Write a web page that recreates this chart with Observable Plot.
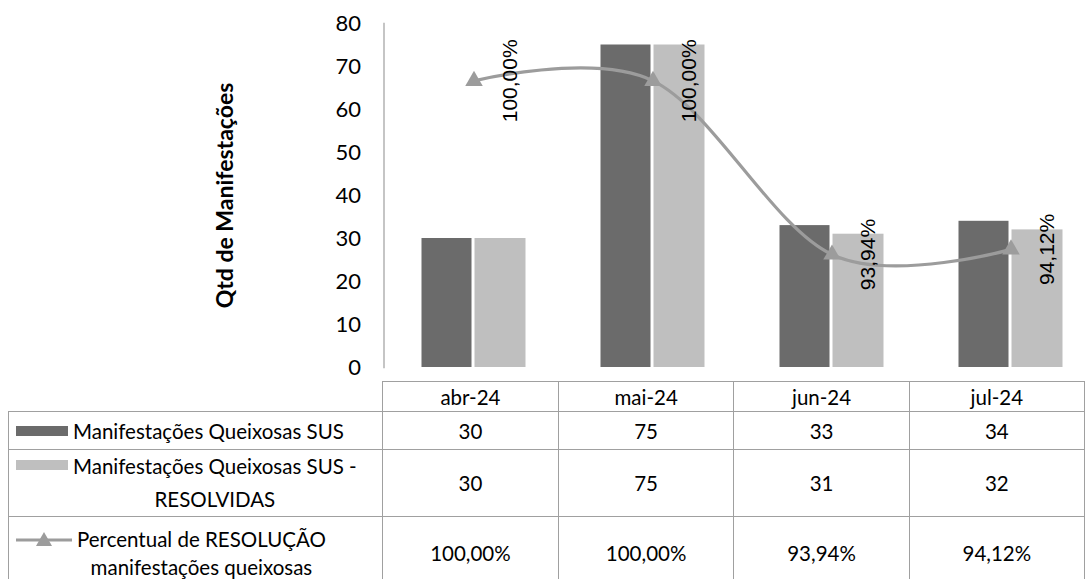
<!DOCTYPE html>
<html><head><meta charset="utf-8">
<script src="https://cdn.jsdelivr.net/npm/d3@7"></script>
<script src="https://cdn.jsdelivr.net/npm/@observablehq/plot@0.6"></script>
<style>
html,body{margin:0;padding:0;background:#fff;}
#wrap{position:relative;width:1085px;height:579px;overflow:hidden;font-family:Lato,sans-serif;}
#chart{position:absolute;left:0;top:0;}
#tbl{position:absolute;left:8px;top:381px;border-collapse:collapse;table-layout:fixed;font-family:Lato,sans-serif;font-size:20.5px;color:#000;}
#tbl td{border:1px solid #a0a0a0;text-align:center;padding:0;vertical-align:middle;white-space:nowrap;}
#tbl td.blank{border:none;}
.rh{display:flex;align-items:flex-start;padding-left:7px;}
.rh .lbl{text-align:center;margin-left:5px;}
</style></head><body>
<div id="wrap"><div id="chart"></div><table id="tbl"></table></div>
<script>
// ---- data ----
const months = ["abr-24", "mai-24", "jun-24", "jul-24"];
const queixas = [30, 75, 33, 34];
const resolvidas = [30, 75, 31, 32];
const percentual = [100.00, 100.00, 93.94, 94.12];
const yTicks = [0, 10, 20, 30, 40, 50, 60, 70, 80];
const seriesNames = ["Manifestações Queixosas SUS", "Manifestações Queixosas SUS - RESOLVIDAS", "Percentual de RESOLUÇÃO manifestações queixosas"];
const yTitle = "Qtd de Manifestações";
// secondary (hidden) axis for the percentage line
const pctDomain = [90, 102];

const darkGray = "#6b6b6b", lightGray = "#bfbfbf", lineGray = "#9c9c9c";
const fmtPct = p => p.toFixed(2).replace(".", ",") + "%";

const barData = months.map((m, i) => ({month: m, q: queixas[i], r: resolvidas[i]}));
const pctData = months.map((m, i) => ({month: m, p: percentual[i]}));
const yMax = yTicks[yTicks.length - 1];
const pctY = d => (d.p - pctDomain[0]) / (pctDomain[1] - pctDomain[0]) * yMax;

const chart = Plot.plot({
  width: 1085, height: 381,
  marginTop: 23, marginBottom: 14, marginLeft: 383.5, marginRight: -14.5,
  x: {domain: months, padding: 0, axis: null},
  y: {domain: [0, yMax], axis: null},
  style: {fontFamily: "Lato, sans-serif", background: "white", color: "#000"},
  marks: [
    Plot.barY(barData, {x: "month", y: "q", fill: darkGray, insetLeft: 37.5, insetRight: 91.5}),
    Plot.barY(barData, {x: "month", y: "r", fill: lightGray, insetLeft: 90.5, insetRight: 37.5}),
    Plot.frame({anchor: "left", stroke: "#a6a6a6", strokeWidth: 1.3}),
    Plot.axisY({ticks: yTicks, tickSize: 0, tickPadding: 23, fontSize: 22, label: null}),
    Plot.text([yTitle], {frameAnchor: "left", textAnchor: "middle", dx: -158, rotate: -90, fontSize: 23, fontWeight: "bold", fill: "#000"}),
    Plot.line(pctData, {x: "month", y: pctY, curve: "cardinal", stroke: lineGray, strokeWidth: 3.2}),
    Plot.dot(pctData, {x: "month", y: pctY, symbol: "triangle", r: 6.5, fill: lineGray, stroke: "none"}),
    Plot.text(pctData, {x: "month", y: pctY, text: d => fmtPct(d.p), rotate: -90, dx: 36, fontSize: 21, fontFamily: "Liberation Sans, Arial, sans-serif", fill: "#000"})
  ]
});
document.getElementById("chart").appendChild(chart);

// ---- data table (acts as category axis + legend) ----
const tbl = document.getElementById("tbl");
const colW = [375, 179, 179, 179, 179];
let html = "<colgroup>" + colW.map(w => `<col style="width:${w}px">`).join("") + "</colgroup>";
html += `<tr style="height:30px"><td class="blank"></td>` + months.map(m => `<td>${m}</td>`).join("") + "</tr>";
const swatch = c => `<svg width="52" height="12" style="flex:none;margin-top:${9}px"><rect x="0" y="1" width="52" height="10" fill="${c}"/></svg>`;
const lineSym = `<svg width="56" height="16" style="flex:none;margin-top:6px"><line x1="0" x2="56" y1="9" y2="9" stroke="${lineGray}" stroke-width="3"/><path d="M28,1 L36,15 L20,15 Z" fill="${lineGray}"/></svg>`;
const rows = [
  {h: 38, lh: 30, sym: swatch(darkGray), label: [seriesNames[0]], vals: queixas.map(String)},
  {h: 67, lh: 33, sym: swatch(lightGray), label: ["Manifestações Queixosas SUS -", "RESOLVIDAS"], vals: resolvidas.map(String)},
  {h: 72, lh: 28, sym: lineSym, label: ["Percentual de RESOLUÇÃO", "manifestações queixosas"], vals: percentual.map(fmtPct)}
];
rows.forEach(r => {
  html += `<tr style="height:${r.h}px"><td style="line-height:${r.lh}px"><div class="rh">${r.sym}<div class="lbl">${r.label.join("<br>")}</div></div></td>` +
    r.vals.map(v => `<td>${v}</td>`).join("") + "</tr>";
});
tbl.innerHTML = html;
</script>
</body></html>
